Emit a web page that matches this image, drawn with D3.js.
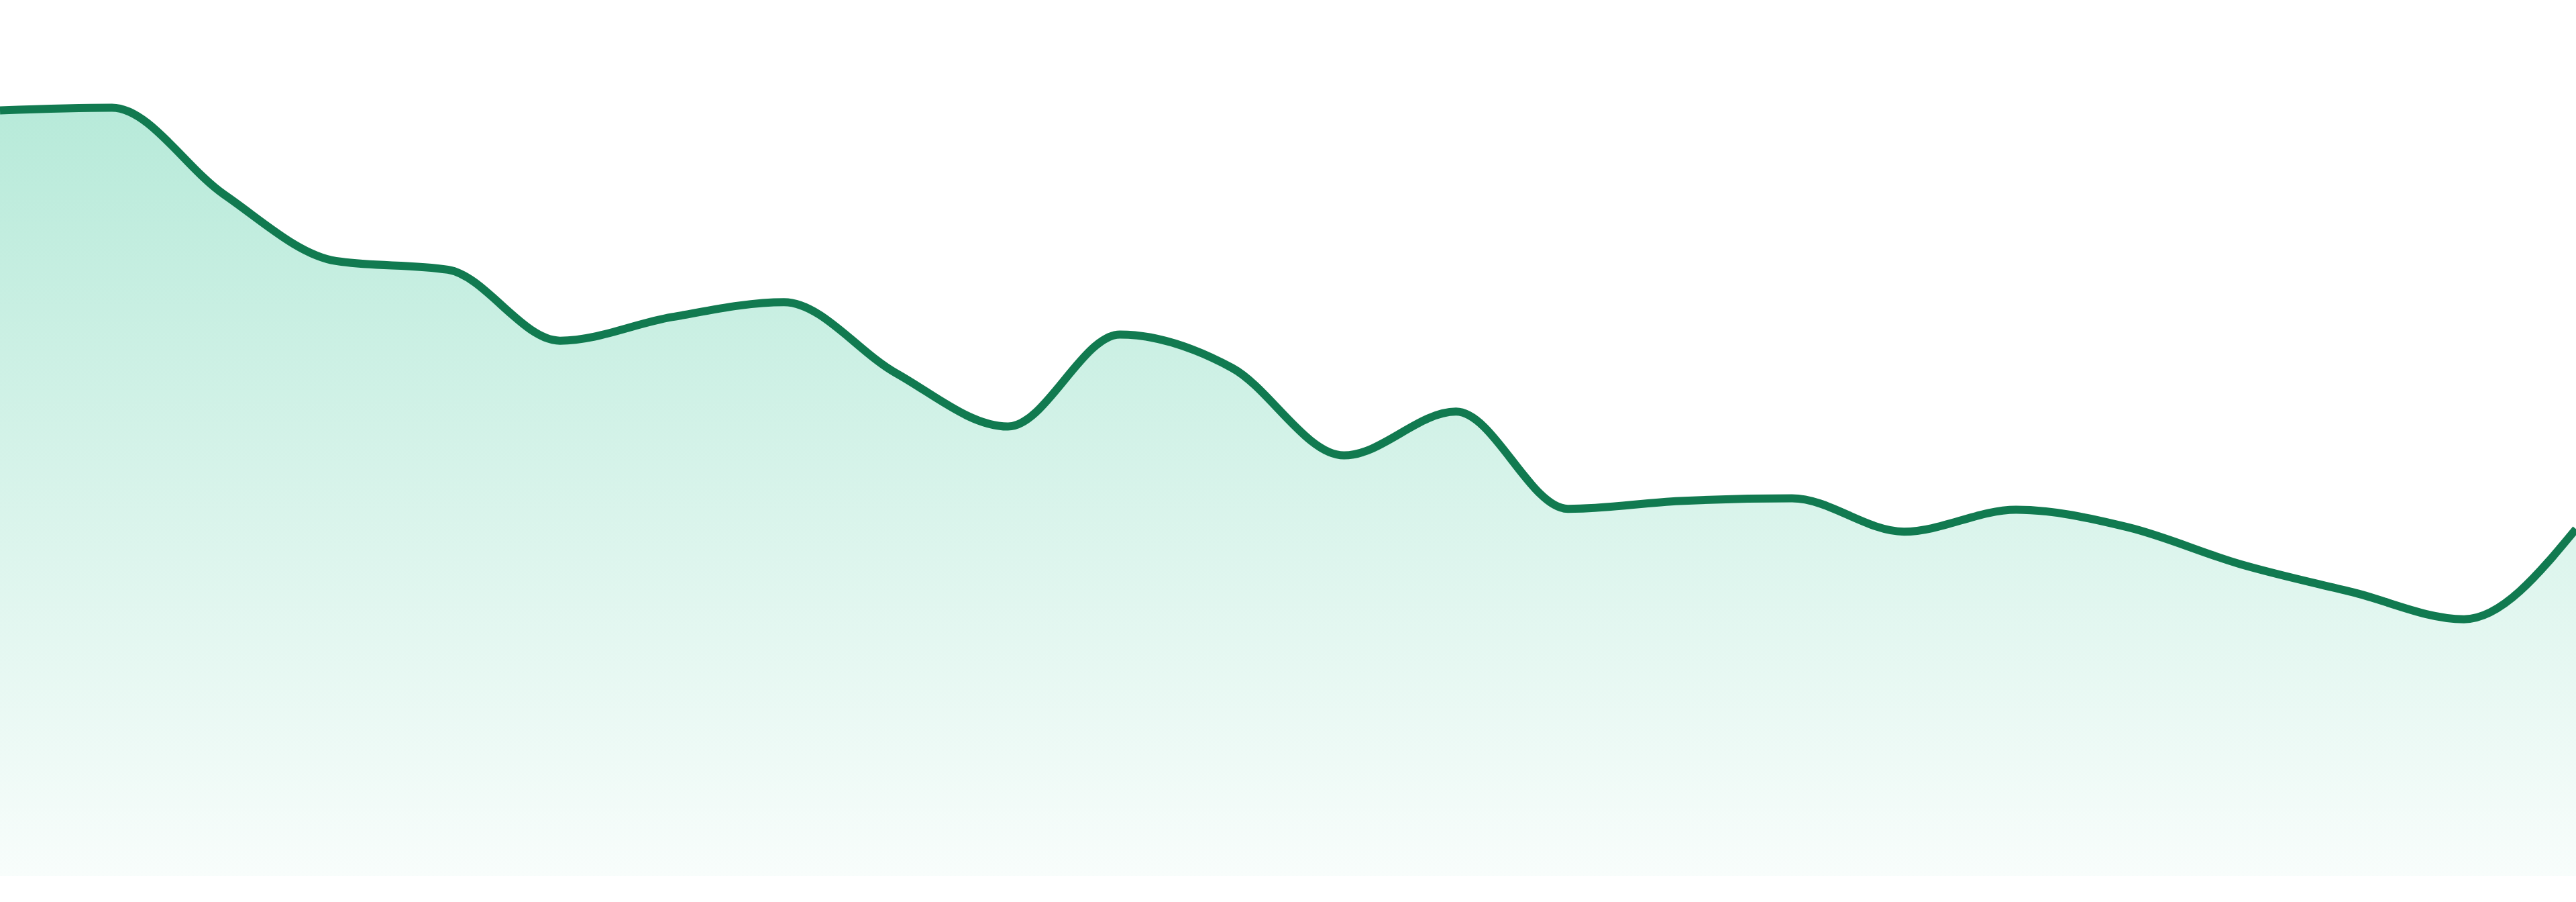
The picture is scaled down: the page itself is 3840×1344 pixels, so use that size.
<!DOCTYPE html>
<html>
<head>
<meta charset="utf-8">
<script src="https://cdn.jsdelivr.net/npm/d3@7"></script>
<style>
  html, body { margin: 0; padding: 0; background: #fff; overflow: hidden; }
  #chart { width: 100vw; height: 100vh; }
  svg { display: block; width: 100%; height: 100%; }
</style>
</head>
<body>
<div id="chart"></div>
<script>
// values, one per step (no axis labels shown)
const values = [
    87.4, 87.7, 77.8, 70.2, 69.2, 61.1, 63.8, 65.5,
    57.4, 51.3, 61.8, 58.0, 48.0, 53.0, 41.9, 42.8,
    43.1, 39.3, 41.8, 39.8, 35.6, 32.4, 29.3, 39.6
];
const lineColor = "#117a50";
const fillColor = "#10b981";

const width = 3840;
const height = 1344;
const bottom = 1305;

// fixed drawing space, stretched to whatever the window is
const svg = d3.select("#chart")
    .append("svg")
    .attr("viewBox", `0 0 ${width} ${height}`)
    .attr("preserveAspectRatio", "none");

const x = d3.scaleLinear()
    .domain([0, values.length - 1])
    .range([0, width]);

const y = d3.scaleLinear()
    .domain([0, 100])
    .range([bottom, 0]);

// vertical fade under the line
const grad = svg.append("defs")
    .append("linearGradient")
    .attr("id", "fade")
    .attr("x1", 0).attr("y1", 0)
    .attr("x2", 0).attr("y2", 1);

grad.append("stop")
    .attr("offset", "0%")
    .attr("stop-color", fillColor)
    .attr("stop-opacity", 0.3);

grad.append("stop")
    .attr("offset", "100%")
    .attr("stop-color", fillColor)
    .attr("stop-opacity", 0.03);

const area = d3.area()
    .x((d, i) => x(i))
    .y0(bottom)
    .y1(d => y(d))
    .curve(d3.curveMonotoneX);

const line = d3.line()
    .x((d, i) => x(i))
    .y(d => y(d))
    .curve(d3.curveMonotoneX);

svg.append("path")
    .datum(values)
    .attr("d", area)
    .attr("fill", "url(#fade)");

svg.append("path")
    .datum(values)
    .attr("d", line)
    .attr("fill", "none")
    .attr("stroke", lineColor)
    .attr("stroke-width", 12)
    .attr("stroke-linejoin", "round");
</script>
</body>
</html>
